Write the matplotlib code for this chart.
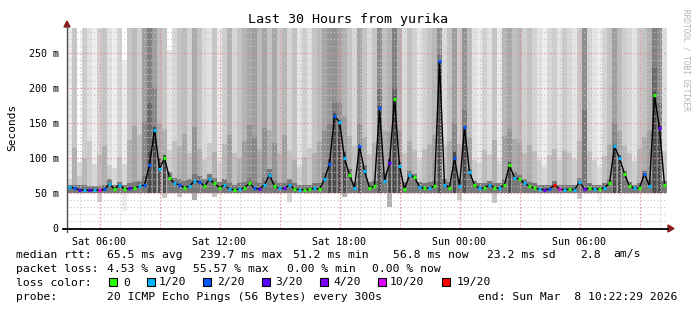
import numpy as np
import matplotlib
matplotlib.use("Agg")
import matplotlib.pyplot as plt
from matplotlib.patches import Rectangle, Polygon
from matplotlib.lines import Line2D

W, H = 697, 310

# --- data: one column per 15 minutes, starting Sat 04:22:29 ---
median = [59, 57, 55, 55, 54, 55, 54, 56, 63, 56,
          62, 56, 57, 58, 60, 62, 90, 141, 85, 100,
          72, 64, 62, 58, 60, 68, 66, 60, 70, 64,
          58, 62, 56, 55, 56, 58, 64, 57, 56, 62,
          76, 60, 57, 57, 62, 56, 55, 55, 56, 57,
          56, 70, 92, 160, 152, 100, 76, 58, 117, 82,
          58, 60, 172, 68, 93, 185, 89, 56, 76, 73,
          59, 57, 58, 60, 239, 62, 58, 100, 60, 144,
          80, 62, 57, 58, 62, 58, 57, 62, 90, 72,
          70, 64, 60, 57, 56, 55, 56, 62, 56, 55,
          56, 55, 66, 56, 57, 56, 56, 58, 64, 117,
          100, 78, 60, 57, 58, 78, 60, 190, 143, 62]

loss = [1, 2, 3, 1, 3, 1, 10, 2, 1, 0,
        1, 0, 3, 0, 1, 2, 2, 1, 1, 0,
        0, 1, 2, 0, 1, 1, 2, 0, 1, 0,
        0, 1, 1, 0, 1, 0, 0, 2, 3, 1,
        1, 0, 1, 3, 1, 0, 1, 0, 0, 1,
        0, 1, 2, 2, 1, 1, 0, 1, 2, 1,
        0, 0, 2, 1, 3, 0, 1, 0, 1, 0,
        1, 0, 1, 0, 2, 1, 0, 2, 1, 2,
        1, 0, 1, 0, 1, 0, 1, 0, 0, 1,
        0, 1, 0, 0, 1, 3, 2, 19, 10, 1,
        0, 1, 1, 3, 0, 1, 0, 1, 0, 1,
        1, 0, 0, 1, 0, 2, 1, 0, 3, 0]

smoke_lo = [50, 50, 50, 50, 50, 50, 37, 50, 50, 50,
            50, 25, 50, 50, 50, 50, 50, 50, 50, 43,
            50, 50, 45, 50, 50, 40, 50, 50, 50, 45,
            50, 50, 50, 50, 50, 50, 50, 50, 50, 50,
            50, 50, 50, 50, 37, 50, 50, 50, 50, 50,
            50, 50, 50, 50, 50, 45, 50, 50, 50, 50,
            50, 50, 50, 50, 30, 50, 50, 50, 50, 50,
            50, 50, 50, 50, 50, 50, 50, 50, 40, 50,
            50, 50, 50, 50, 50, 36, 50, 50, 50, 50,
            50, 50, 50, 50, 50, 50, 50, 50, 50, 50,
            50, 50, 42, 50, 50, 50, 37, 50, 50, 50,
            50, 50, 50, 50, 50, 50, 50, 50, 50, 50]

smoke_hi = [300, 300, 95, 300, 300, 300, 300, 300, 300, 300,
            300, 240, 300, 300, 300, 300, 300, 300, 300, 300,
            255, 300, 300, 300, 300, 300, 300, 300, 300, 300,
            300, 300, 300, 300, 300, 300, 300, 300, 300, 300,
            300, 300, 300, 300, 300, 300, 300, 300, 300, 300,
            300, 300, 300, 300, 300, 300, 300, 300, 300, 300,
            300, 300, 300, 300, 300, 300, 300, 300, 300, 300,
            300, 300, 300, 300, 300, 300, 300, 300, 300, 300,
            300, 300, 300, 300, 300, 300, 300, 300, 300, 300,
            300, 300, 300, 300, 300, 300, 300, 300, 300, 300,
            300, 300, 300, 300, 300, 300, 300, 300, 300, 300,
            300, 300, 300, 300, 300, 300, 300, 300, 300, 300]

smoke_mid = [70, 115, 75, 100, 125, 92, 104, 118, 90, 86,
             102, 92, 126, 146, 133, 152, 180, 200, 150, 142,
             112, 124, 118, 134, 108, 145, 113, 98, 122, 109,
             96, 121, 133, 107, 99, 124, 148, 131, 112, 143,
             140, 122, 108, 133, 111, 97, 88, 102, 114, 108,
             123, 140, 150, 180, 180, 160, 132, 118, 150, 131,
             106, 122, 200, 141, 138, 200, 140, 107, 124, 112,
             98, 113, 121, 133, 250, 118, 124, 150, 121, 170,
             130, 97, 94, 112, 106, 126, 96, 132, 142, 128,
             122, 108, 119, 111, 98, 88, 104, 113, 97, 112,
             108, 99, 124, 170, 110, 97, 88, 103, 121, 150,
             140, 118, 107, 96, 113, 131, 140, 230, 180, 110]

smoke_core = [62, 62, 62, 62, 60, 60, 60, 62, 70, 62,
              66, 62, 64, 66, 68, 75, 110, 145, 100, 105,
              80, 72, 70, 68, 70, 78, 74, 70, 78, 72,
              66, 70, 64, 62, 64, 66, 72, 66, 64, 72,
              85, 68, 64, 64, 70, 64, 62, 62, 62, 64,
              64, 80, 100, 165, 155, 110, 85, 66, 120, 90,
              66, 68, 175, 80, 100, 190, 95, 66, 82, 78,
              66, 64, 66, 68, 240, 70, 66, 110, 70, 145,
              85, 68, 64, 64, 68, 64, 64, 70, 95, 80,
              76, 70, 66, 64, 62, 62, 62, 68, 62, 62,
              62, 62, 72, 70, 64, 62, 62, 64, 70, 120,
              105, 82, 66, 62, 64, 82, 70, 195, 150, 68]

smoke_shade = [235, 198, 222, 205, 224, 238, 210, 196, 224, 238,
               212, 236, 198, 186, 208, 160, 128, 158, 188, 198,
               228, 214, 196, 188, 212, 170, 194, 218, 226, 198,
               236, 206, 178, 214, 196, 180, 168, 158, 186, 166,
               196, 168, 202, 182, 214, 194, 230, 206, 224, 196,
               184, 166, 152, 146, 160, 178, 198, 214, 166, 196,
               218, 196, 138, 192, 178, 128, 176, 218, 192, 208,
               230, 210, 196, 184, 142, 218, 194, 158, 204, 148,
               186, 224, 236, 208, 226, 196, 236, 182, 168, 192,
               182, 208, 194, 212, 228, 238, 216, 206, 228, 202,
               216, 228, 202, 142, 212, 228, 240, 212, 194, 158,
               186, 206, 216, 228, 202, 194, 178, 128, 142, 222]

loss_colors = {0: "#26ff00", 1: "#00b8ff", 2: "#0059ff", 3: "#5e00ff",
               4: "#7e00ff", 10: "#dd00ff", 19: "#ff0000"}
legend_loss = ["0", "1/20", "2/20", "3/20", "4/20", "10/20", "19/20"]
legend_keys = [0, 1, 2, 3, 4, 10, 19]

tick_labels = ["Sat 06:00", "Sat 12:00", "Sat 18:00", "Sun 00:00", "Sun 06:00"]
ytick_labels = ["0", "50 m", "100 m", "150 m", "200 m", "250 m"]

step = 0.25           # hours per column
first_label = 1.625   # Sat 06:00 in hours after start
y_top = 286

plt.rcParams["font.family"] = ["DejaVu Sans Mono"]
fig = plt.figure(figsize=(W / 100, H / 100), dpi=100)
ax = fig.add_axes([67 / W, (H - 228.3) / H, 600 / W, 200.3 / H])
ax.set_xlim(0, 30)
ax.set_ylim(0, y_top)

n = len(median)
x = np.arange(n) * step + step / 2


def grey(v):
    v = max(0, min(255, v)) / 255
    return (v, v, v)


# smoke
for i in range(n):
    ax.bar(x[i], smoke_hi[i] - smoke_lo[i], width=step, bottom=smoke_lo[i],
           color=grey(smoke_shade[i]), linewidth=0, zorder=1)
    ax.bar(x[i], smoke_mid[i] - 50, width=step, bottom=50,
           color=grey(smoke_shade[i] - 22), linewidth=0, zorder=1.2)
    spike = smoke_core[i] > 90
    ax.bar(x[i], smoke_core[i] - 50, width=step * (0.6 if spike else 1), bottom=50,
           color=grey(75 if spike else 120), linewidth=0, zorder=1.4)

# grid
minor_h = np.arange(0.625, 30, 1.0)
major_h = np.arange(first_label, 30, 3.0)
for v in minor_h:
    ax.axvline(v, color="#c8c8c8", lw=0.8, ls=(0, (1, 2)), zorder=2)
for v in range(10, y_top, 10):
    ax.axhline(v, color="#c8c8c8", lw=0.8, ls=(0, (1, 2)), zorder=2)
for v in major_h:
    ax.axvline(v, color="#f08a8a", lw=0.8, ls=(0, (1, 2)), zorder=2.1)
for v in range(50, y_top, 50):
    ax.axhline(v, color="#f08a8a", lw=0.8, ls=(0, (1, 2)), zorder=2.1)

# median line and loss colour
ax.plot(x, median, color="black", lw=1.0, zorder=4)
cols = [loss_colors[v] for v in loss]
ax.hlines(median, x - step * 0.3, x + step * 0.3, colors=cols, lw=2.4, zorder=5)

ax.set_xticks(np.arange(first_label, 30, 6.0))
ax.set_xticklabels(tick_labels, fontsize=7.2)
ax.set_yticks(range(0, 251, 50))
ax.set_yticklabels(ytick_labels, fontsize=7.2)
ax.tick_params(length=0, pad=6)
for s in ax.spines.values():
    s.set_visible(False)


def px(xp, yp):
    return xp / W, 1 - yp / H


# axis lines and arrows
fig.add_artist(Line2D([px(67, 0)[0]] * 2, [px(0, 232)[1], px(0, 26)[1]],
                      color="#505050", lw=1.0))
fig.add_artist(Line2D([px(63, 0)[0], px(668, 0)[0]], [px(0, 228.5)[1]] * 2,
                      color="black", lw=1.3))
fig.add_artist(Polygon([px(668, 225), px(674, 228.5), px(668, 232)],
                       closed=True, color="#8b1a1a", transform=fig.transFigure))
fig.add_artist(Polygon([px(64, 27), px(67, 21), px(70, 27)],
                       closed=True, color="#8b1a1a", transform=fig.transFigure))

fig.text(*px(348, 19), "Last 30 Hours from yurika", ha="center", va="center",
         fontsize=9.6)
fig.text(*px(12, 127), "Seconds", rotation=90, ha="center", va="center",
         fontsize=8)
fig.text(*px(686, 60), "RRDTOOL / TOBI OETIKER", rotation=270, ha="center",
         va="center", fontsize=5.6, color="#b4b4b4")

fs = 8.2
row1 = [(16, "median rtt:"), (107, "65.5 ms avg"), (200, "239.7 ms max"),
        (293, "51.2 ms min"), (393, "56.8 ms now"), (487, "23.2 ms sd"),
        (580, "2.8"), (613, "am/s")]
row2 = [(16, "packet loss:"), (107, "4.53 % avg"), (193, "55.57 % max"),
        (287, "0.00 % min"), (372, "0.00 % now")]
row4 = [(16, "probe:"), (107, "20 ICMP Echo Pings (56 Bytes) every 300s"),
        (478, "end: Sun Mar  8 10:22:29 2026")]
for yy, row in [(254.5, row1), (268.5, row2), (296.5, row4)]:
    for xx, s in row:
        fig.text(*px(xx, yy), s, ha="left", va="center", fontsize=fs)

fig.text(*px(16, 282.5), "loss color:", ha="left", va="center", fontsize=fs)
box_x = [109, 147, 203, 262, 320, 378, 442]
lab_x = [123, 159, 217, 275, 333, 390, 457]
for bx, lx, k, lab in zip(box_x, lab_x, legend_keys, legend_loss):
    fig.add_artist(Rectangle(px(bx, 286), 8 / W, 8 / H, transform=fig.transFigure,
                             facecolor=loss_colors[k], edgecolor="black", lw=0.8))
    fig.text(*px(lx, 282.5), lab, ha="left", va="center", fontsize=fs)

fig.savefig("out.png", dpi=100, facecolor="white")
